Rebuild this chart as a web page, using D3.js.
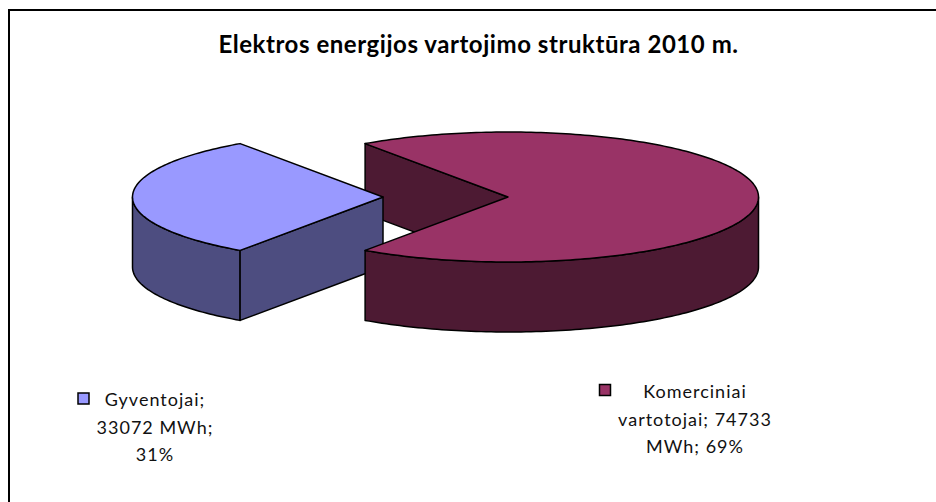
<!DOCTYPE html>
<html><head><meta charset="utf-8">
<script src="https://cdn.jsdelivr.net/npm/d3@7/dist/d3.min.js"></script>
<style>html,body{margin:0;padding:0;background:#fff}svg{display:block}text{font-family:Lato,"Open Sans",sans-serif;fill:#111}</style>
</head><body><svg id="c" width="936" height="502"></svg>
<script>
const title = "Elektros energijos vartojimo struktūra 2010 m.";
const categories = ["Gyventojai", "Komerciniai vartotojai"];
const values = [33072, 74733];
const percents = ["31%", "69%"];
const topColors = ["#9999FF", "#993366"];
const wallColors = ["#4D4D80", "#4D1A33"];
const labelLines = [["Gyventojai;", "33072 MWh;", "31%"], ["Komerciniai", "vartotojai; 74733", "MWh; 69%"]];

const svg = d3.select("#c");
svg.append("path").attr("d","M9,502V10H936").attr("fill","none").attr("stroke","#000").attr("stroke-width",2);

svg.append("text").attr("x",478.5).attr("y",53).attr("text-anchor","middle")
  .attr("font-size",24).attr("letter-spacing",0.55).attr("font-weight",700).style("fill","#000").text(title);

const base = {x:445.5, y:197}, rx = 250.5, ry = 65, depth = 70, explode = 62.5;
const mid = 270 * Math.PI/180;
const total = d3.sum(values);
const span0 = values[0]/total*2*Math.PI;
const pie = d3.pie().sort(null).value(d=>d).startAngle(mid-span0/2).endAngle(mid-span0/2+2*Math.PI);
const arcs = pie(values);
const xp = d3.scaleLinear().domain([-1,1]).range([-rx,rx]);
const yp = d3.scaleLinear().domain([-1,1]).range([-ry,ry]);

function center(a){
  const m=(a.startAngle+a.endAngle)/2;
  return {x:base.x+explode*Math.sin(m), y:base.y};
}
function pt(c,t,dz=0){return [c.x+xp(Math.sin(t)), c.y+yp(-Math.cos(t))+dz];}
function arcPts(c,t0,t1,dz=0){
  const n=Math.max(2,Math.ceil(Math.abs(t1-t0)/0.02));
  return d3.range(n+1).map(i=>pt(c,t0+(t1-t0)*i/n,dz));
}
const line=d3.line();
const g=svg.append("g").attr("stroke","#000").attr("stroke-width",1.5).attr("stroke-linejoin","round");
function poly(points,fill){g.append("path").attr("d",line(points)+"Z").attr("fill",fill);}

const [blue,maroon]=arcs;
const cb=center(blue), cm=center(maroon);
const maroonStart=maroon.startAngle, maroonEnd=maroon.endAngle;

poly([pt(cm,maroonStart),[cm.x,cm.y],[cm.x,cm.y+depth],pt(cm,maroonStart,depth)],wallColors[1]);

const bl=arcPts(cb,blue.startAngle,3*Math.PI/2);
const blB=arcPts(cb,blue.startAngle,3*Math.PI/2,depth);
poly(bl.concat(blB.reverse()),wallColors[0]);
poly([pt(cb,blue.startAngle),[cb.x,cb.y],[cb.x,cb.y+depth],pt(cb,blue.startAngle,depth)],wallColors[0]);
poly([[cb.x,cb.y]].concat(arcPts(cb,blue.startAngle,blue.endAngle)),topColors[0]);

const t90=2*Math.PI+Math.PI/2;
const mf=arcPts(cm,t90,maroonEnd);
const mfB=arcPts(cm,t90,maroonEnd,depth);
poly(mf.concat(mfB.reverse()),wallColors[1]);
poly([[cm.x,cm.y]].concat(arcPts(cm,maroonStart,maroonEnd)),topColors[1]);

const legend=[{sx:78,sy:393,cx:155,y0:406},{sx:599.5,sy:384.5,cx:695,y0:398}];
legend.forEach((l,i)=>{
  svg.append("rect").attr("x",l.sx).attr("y",l.sy).attr("width",11).attr("height",11)
    .attr("fill",topColors[i]).attr("stroke","#000").attr("stroke-width",1.5);
  labelLines[i].forEach((s,j)=>{
    svg.append("text").attr("x",l.cx).attr("y",l.y0+j*27.7)
      .attr("text-anchor","middle").attr("font-size",18).attr("letter-spacing",1).text(s);
  });
});
</script></body></html>
